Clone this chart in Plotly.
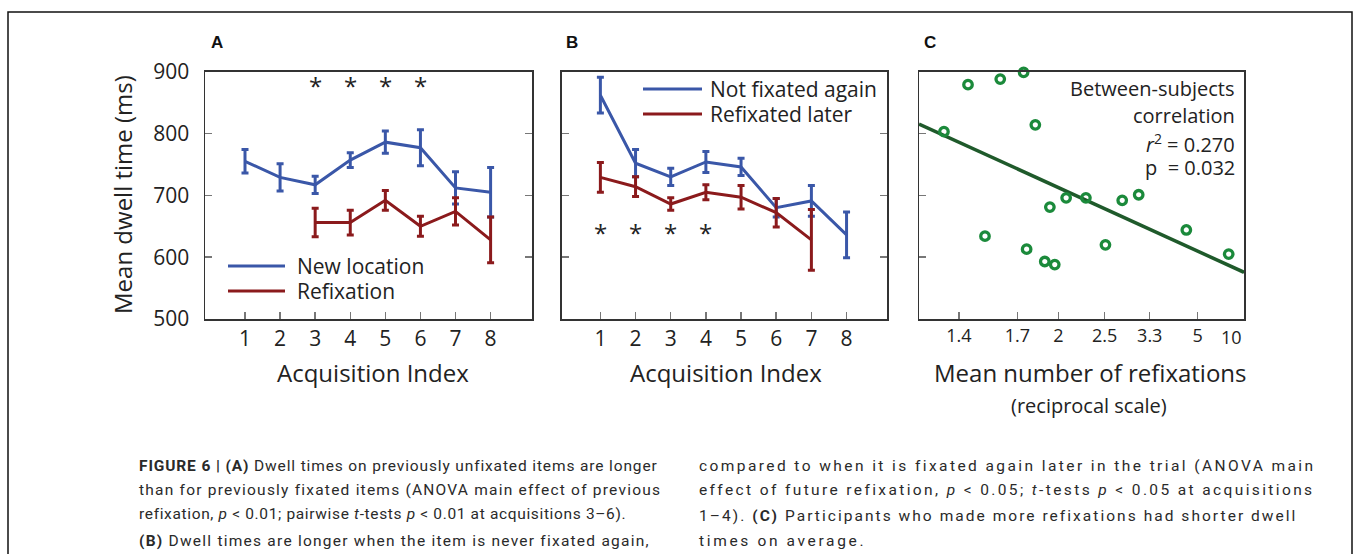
import plotly.graph_objects as go

# ---------------- data ----------------
acq = [1, 2, 3, 4, 5, 6, 7, 8]

# Panel A
a_new_x = [1, 2, 3, 4, 5, 6, 7, 8]
a_new_mean = [755, 729, 717, 757, 786, 777, 712, 705]
a_new_err = [19, 22, 14, 12, 18, 29, 26, 40]
a_ref_x = [3, 4, 5, 6, 7, 8]
a_ref_mean = [656, 656, 692, 650, 674, 628]
a_ref_err = [23, 20, 16, 16, 22, 37]
a_sig = [3, 4, 5, 6]

# Panel B
b_not_x = [1, 2, 3, 4, 5, 6, 7, 8]
b_not_mean = [862, 752, 730, 754, 746, 680, 691, 636]
b_not_err = [29, 22, 14, 17, 14, 15, 25, 37]
b_ref_x = [1, 2, 3, 4, 5, 6, 7]
b_ref_mean = [729, 714, 686, 705, 697, 672, 628]
b_ref_err = [24, 16, 10, 12, 19, 23, 49]
b_sig = [1, 2, 3, 4]
sig_level_A = 877
sig_level_B = 640

# Panel C: mean number of refixations per subject and mean dwell time
c_refix = [1.34, 1.44, 1.60, 1.74, 1.82, 1.52, 1.76, 1.89, 1.97, 1.93,
           2.07, 2.27, 2.51, 2.76, 3.06, 4.46, 7.52]
c_dwell = [803, 879, 888, 899, 814, 634, 613, 593, 588, 681,
           696, 696, 620, 692, 701, 644, 605]
fit_intercept = 541.3   # dwell = intercept + slope * (1 / refixations)
fit_slope = 342.6
c_tick_vals = [1.4, 1.7, 2, 2.5, 3.3, 5]
c_tick_text = ["1.4", "1.7", "2", "2.5", "3.3", "5"]

y_ticks = [500, 600, 700, 800, 900]

# ---------------- styling ----------------
W, H = 1355, 554
BLUE = "#3a57a8"
RED = "#8b1a1c"
GREEN = "#1b8a3b"
DKGREEN = "#1f5a2b"
FONT = "Open Sans"
TXT = "#222"


def px(x):
    return x / W


def py(y):
    return 1 - y / H


fig = go.Figure()


def err_trace(x, y, e, color, xa, ya):
    return go.Scatter(
        x=x, y=y, mode="lines", xaxis=xa, yaxis=ya,
        line=dict(color=color, width=3),
        error_y=dict(type="data", array=e, visible=True, color=color,
                     thickness=3, width=3.5),
        showlegend=False, hoverinfo="skip")


fig.add_trace(err_trace(a_new_x, a_new_mean, a_new_err, BLUE, "x", "y"))
fig.add_trace(err_trace(a_ref_x, a_ref_mean, a_ref_err, RED, "x", "y"))
fig.add_trace(err_trace(b_not_x, b_not_mean, b_not_err, BLUE, "x2", "y2"))
fig.add_trace(err_trace(b_ref_x, b_ref_mean, b_ref_err, RED, "x2", "y2"))

# panel C
c_u = [1.0 / v for v in c_refix]
c_range = [0.8, 0.1]
fit_y = [fit_intercept + fit_slope * u for u in c_range]
fig.add_trace(go.Scatter(x=c_range, y=fit_y, mode="lines", xaxis="x3", yaxis="y3",
                         line=dict(color=DKGREEN, width=3.5), showlegend=False,
                         hoverinfo="skip"))
fig.add_trace(go.Scatter(x=c_u, y=c_dwell, mode="markers", xaxis="x3", yaxis="y3",
                         marker=dict(symbol="circle-open", size=8.5, color=GREEN,
                                     line=dict(color=GREEN, width=3.3)),
                         showlegend=False, hoverinfo="skip", cliponaxis=False))

axis_common = dict(showline=True, linecolor="#333", linewidth=1.5, mirror=True,
                   ticks="inside", tickcolor="#777", ticklen=7, tickwidth=1.5,
                   showgrid=False, zeroline=False, fixedrange=True, automargin=False)

fig.update_layout(
    width=W, height=H, margin=dict(l=0, r=0, t=0, b=0, pad=0, autoexpand=False),
    paper_bgcolor="white", plot_bgcolor="white", showlegend=False,
    font=dict(family=FONT, color=TXT),
    xaxis=dict(domain=[px(205), px(532)], range=[-0.14, 9.18], anchor="y",
               tickvals=acq, tickfont=dict(size=21, color=TXT),
               ticklabelstandoff=0, **axis_common),
    yaxis=dict(domain=[py(319), py(71.7)], range=[500, 900], anchor="x",
               tickvals=y_ticks, tickfont=dict(size=21, color=TXT),
               ticklabelstandoff=10, **{**axis_common, "mirror": "ticks"}),
    xaxis2=dict(domain=[px(561.7), px(887)], range=[-0.1, 9.15], anchor="y2",
                tickvals=acq, tickfont=dict(size=21, color=TXT),
                ticklabelstandoff=0, **axis_common),
    yaxis2=dict(domain=[py(319), py(71.7)], range=[500, 900], anchor="x2",
                tickvals=y_ticks, showticklabels=False,
                **{**axis_common, "mirror": "ticks"}),
    xaxis3=dict(domain=[px(919), px(1244)], range=c_range, anchor="y3",
                tickvals=[1.0 / v for v in c_tick_vals], ticktext=c_tick_text,
                tickfont=dict(size=18, color=TXT), ticklabelstandoff=0,
                **axis_common),
    yaxis3=dict(domain=[py(319), py(71.7)], range=[500, 900], anchor="x3",
                tickvals=y_ticks, showticklabels=False, **axis_common),
)

ann = []
# panel labels
for lab, x in [("A", 217), ("B", 572), ("C", 930)]:
    ann.append(dict(x=px(x), y=py(43), xref="paper", yref="paper", text="<b>%s</b>" % lab,
                    showarrow=False, font=dict(family="Liberation Sans", size=17, color="#111"),
                    xanchor="center", yanchor="middle"))
# asterisks
for s in a_sig:
    ann.append(dict(x=s, y=sig_level_A, xref="x", yref="y", text="*", showarrow=False,
                    font=dict(size=24, color=TXT), xanchor="center", yanchor="middle"))
for s in b_sig:
    ann.append(dict(x=s, y=sig_level_B, xref="x2", yref="y2", text="*", showarrow=False,
                    font=dict(size=24, color=TXT), xanchor="center", yanchor="middle"))
# axis titles
ann.append(dict(x=px(122), y=py(195), xref="paper", yref="paper", text="Mean dwell time (ms)",
                textangle=-90, showarrow=False, font=dict(size=24, color=TXT),
                xanchor="center", yanchor="middle"))
for xc in [373, 726]:
    ann.append(dict(x=px(xc), y=py(372), xref="paper", yref="paper", text="Acquisition Index",
                    showarrow=False, font=dict(size=24, color=TXT),
                    xanchor="center", yanchor="middle"))
ann.append(dict(x=px(1090), y=py(372), xref="paper", yref="paper",
                text="Mean number of refixations", showarrow=False,
                font=dict(size=24, color=TXT), xanchor="center", yanchor="middle"))
ann.append(dict(x=px(1089), y=py(405), xref="paper", yref="paper",
                text="(reciprocal scale)", showarrow=False,
                font=dict(size=20, color=TXT), xanchor="center", yanchor="middle"))
# "10" tick label at right edge
ann.append(dict(x=0.1, y=py(336.7), xref="x3", yref="paper", text="10", showarrow=False,
                font=dict(size=18, color=TXT), xanchor="right", yanchor="middle"))
# correlation text
for txt, yy in [("Between-subjects", 88), ("correlation", 116),
                ("<i>r</i><sup>2</sup> = 0.270", 144), ("p  = 0.032", 167)]:
    ann.append(dict(x=px(1237), y=py(yy), xref="paper", yref="paper", text=txt,
                    showarrow=False, font=dict(size=20, color=TXT),
                    xanchor="right", yanchor="middle"))

# legends (drawn manually)
shapes = []
leg = [(228, 285, 295, 266, BLUE, "New location"), (228, 285, 295, 291, RED, "Refixation"),
       (643, 702, 708, 89, BLUE, "Not fixated again"), (643, 702, 708, 114, RED, "Refixated later")]
for x0, x1, xt, yy, col, txt in leg:
    shapes.append(dict(type="line", xref="paper", yref="paper", x0=px(x0), x1=px(x1),
                       y0=py(yy), y1=py(yy), line=dict(color=col, width=3)))
    ann.append(dict(x=px(xt), y=py(yy), xref="paper", yref="paper", text=txt, showarrow=False,
                    font=dict(size=21, color=TXT), xanchor="left", yanchor="middle"))

# outer frame
shapes.append(dict(type="rect", xref="paper", yref="paper", x0=px(8), x1=px(1352),
                   y0=-0.2, y1=py(12), line=dict(color="#111", width=1.5)))

# caption
CAP = "Roboto"
CAPSIZE = 15.5
left_lines = [
    ("<b>FIGURE 6 | (A)</b> Dwell times on previously unfixated items are longer", 466, "letter-spacing:0.87px"),
    ("than for previously fixated items (ANOVA main effect of previous", 490, "letter-spacing:1.22px"),
    ("refixation, <i>p</i> &lt; 0.01; pairwise <i>t</i>-tests <i>p</i> &lt; 0.01 at acquisitions 3–6).", 514, "letter-spacing:0.65px"),
    ("<b>(B)</b> Dwell times are longer when the item is never fixated again,", 541, "letter-spacing:1.24px"),
]
right_lines = [
    ("compared to when it is fixated again later in the trial (ANOVA main", 466, "letter-spacing:2.42px"),
    ("effect of future refixation, <i>p</i> &lt; 0.05; <i>t</i>-tests <i>p</i> &lt; 0.05 at acquisitions", 490, "letter-spacing:2.38px"),
    ("1–4). <b>(C)</b> Participants who made more refixations had shorter dwell", 516, "letter-spacing:2.04px"),
    ("times on average.", 541, "letter-spacing:2.65px"),
]
for lines, x0 in [(left_lines, 137), (right_lines, 697)]:
    for txt, yy, sty in lines:
        ann.append(dict(x=px(x0), y=py(yy), xref="paper", yref="paper",
                        text='<span style="%s">%s</span>' % (sty, txt), showarrow=False,
                        font=dict(family=CAP, size=CAPSIZE, color="#2a2a2a"),
                        xanchor="left", yanchor="middle"))

fig.update_layout(annotations=ann, shapes=shapes)
fig.write_html("out.html", config={"displayModeBar": False, "staticPlot": True})
